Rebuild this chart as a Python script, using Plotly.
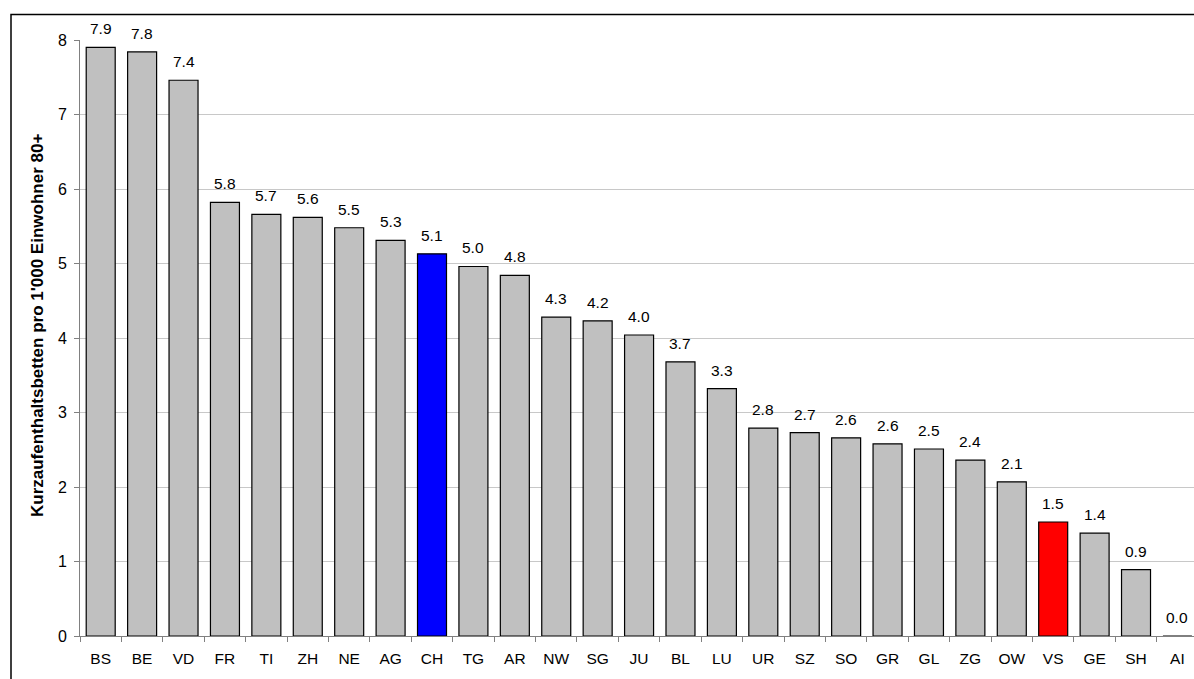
import plotly.graph_objects as go

cantons = ["BS", "BE", "VD", "FR", "TI", "ZH", "NE", "AG", "CH", "TG", "AR", "NW", "SG", "JU",
           "BL", "LU", "UR", "SZ", "SO", "GR", "GL", "ZG", "OW", "VS", "GE", "SH", "AI"]
values = [7.90, 7.84, 7.46, 5.82, 5.66, 5.62, 5.48, 5.31, 5.13, 4.96, 4.84, 4.28, 4.23, 4.04,
          3.68, 3.32, 2.79, 2.73, 2.66, 2.58, 2.51, 2.36, 2.07, 1.53, 1.38, 0.89, 0.0]
labels = ["7.9", "7.8", "7.4", "5.8", "5.7", "5.6", "5.5", "5.3", "5.1", "5.0", "4.8", "4.3", "4.2", "4.0",
          "3.7", "3.3", "2.8", "2.7", "2.6", "2.6", "2.5", "2.4", "2.1", "1.5", "1.4", "0.9", "0.0"]
y_title = "Kurzaufenthaltsbetten pro 1'000 Einwohner 80+"
highlight = {"CH": "#0000ff", "VS": "#ff0000"}
colors = [highlight.get(c, "#c0c0c0") for c in cantons]

FONT = "Liberation Sans, Arial, sans-serif"

fig = go.Figure(go.Bar(
    x=cantons, y=values,
    marker=dict(color=colors, line=dict(color="black", width=1.2)),
    cliponaxis=False,
))

W, H = 1194, 679
ml, mr, mt, mb = 80, 0, 40, 43
pw, ph = W - ml - mr, H - mt - mb

annotations = [dict(x=c, y=v, xref="x", yref="y", text=t, showarrow=False,
                    yanchor="bottom", yshift=8, font=dict(size=15.5, color="black", family=FONT))
               for c, v, t in zip(cantons, values, labels)]
annotations.append(dict(
    x=(37 - ml) / pw, y=(H - mb - 326) / ph, xref="paper", yref="paper",
    text="<b>" + y_title + "</b>", textangle=-90, showarrow=False,
    xanchor="center", yanchor="middle", font=dict(size=17, color="black", family=FONT),
))

fig.update_layout(
    width=W, height=H,
    margin=dict(l=ml, r=mr, t=mt, b=mb),
    paper_bgcolor="white", plot_bgcolor="white",
    bargap=0.3, showlegend=False,
    font=dict(family=FONT, size=15, color="black"),
    xaxis=dict(
        type="category", range=[-0.5, 26.4],
        showline=True, linecolor="#808080", linewidth=1,
        ticks="outside", tickson="boundaries", ticklen=5, tickcolor="#808080",
        tickfont=dict(size=15.5), showgrid=False, ticklabelstandoff=8,
    ),
    yaxis=dict(
        range=[0, 8], dtick=1, tickformat="d",
        showline=True, linecolor="#808080", linewidth=1,
        ticks="outside", ticklen=5, tickcolor="#808080",
        showgrid=True, gridcolor="#c8c8c8", gridwidth=1,
        tickfont=dict(size=16), zeroline=False, ticklabelstandoff=4,
    ),
    annotations=annotations,
    shapes=[dict(
        type="rect", xref="paper", yref="paper",
        x0=(11 - ml) / pw, x1=1.05,
        y0=-0.2, y1=(H - mb - 14.5) / ph,
        line=dict(color="black", width=1.5), fillcolor="rgba(0,0,0,0)", layer="above",
    )],
)

fig.write_html("out.html")
